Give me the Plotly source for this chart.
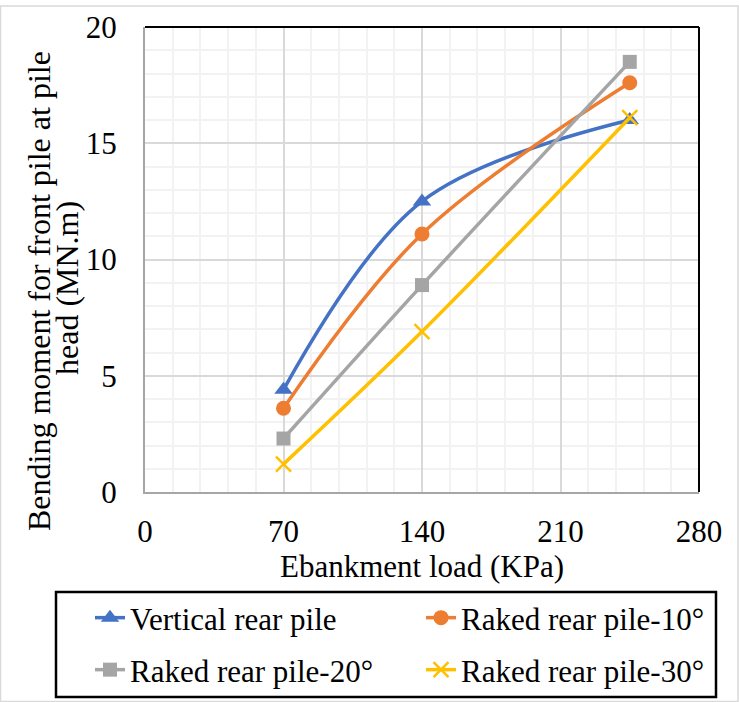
import plotly.graph_objects as go

# ---- data ----
load_kpa = [70, 140, 245]
vertical_rear = [4.4, 12.5, 16.0]
raked_10 = [3.6, 11.1, 17.6]
raked_20 = [2.3, 8.9, 18.5]
raked_30 = [1.2, 6.9, 16.1]

series_names = ["Vertical rear pile", "Raked rear pile-10°",
                "Raked rear pile-20°", "Raked rear pile-30°"]
x_ticks = [0, 70, 140, 210, 280]
y_ticks = [0, 5, 10, 15, 20]
x_title = "Ebankment load (KPa)"
y_title_lines = ["Bending moment for front pile at pile", "head (MN.m)"]

FONT = "Liberation Serif"
FS = 31
FS_YT = 32

W, H = 739, 702
L, R, T, B = 145, 699, 27, 492  # plot area in pixels


def px(x):
    return (x - L) / (R - L)


def py(y):
    return (B - y) / (B - T)


styles = [
    dict(color="#4472C4", symbol="triangle-up", size=16),
    dict(color="#ED7D31", symbol="circle", size=15),
    dict(color="#A5A5A5", symbol="square", size=14),
    dict(color="#FFC000", symbol="x-thin", size=15),
]
data = [vertical_rear, raked_10, raked_20, raked_30]
legend_ids = ["legend", "legend2", "legend3", "legend4"]
legend_pos = [(90, 618), (421, 618), (90, 670), (421, 670)]  # pixel anchor

fig = go.Figure()
for name, ys, st, lg in zip(series_names, data, styles, legend_ids):
    marker = dict(symbol=st["symbol"], size=st["size"], color=st["color"])
    if st["symbol"] == "x-thin":
        marker["line"] = dict(color=st["color"], width=2.5)
    fig.add_trace(go.Scatter(
        x=load_kpa, y=ys, name=name, mode="lines+markers", showlegend=True,
        line=dict(color=st["color"], width=3.5, shape="spline", smoothing=1.0),
        marker=marker, legend=lg,
    ))

tfont = dict(family=FONT, size=FS, color="black")

axis_common = dict(
    showgrid=True, gridcolor="#D9D9D9", gridwidth=1.5,
    showline=True, linecolor="#A6A6A6", linewidth=2,
    zeroline=False, ticks="", automargin=False,
    tickfont=tfont,
)

fig.update_xaxes(
    range=[0, 280], tickvals=x_ticks, ticktext=[str(v) for v in x_ticks],
    minor=dict(dtick=14, showgrid=True, gridcolor="#F2F2F2", gridwidth=1.5),
    ticklabelstandoff=11,
    title=dict(text=x_title, font=tfont, standoff=2),
    **axis_common,
)
fig.update_yaxes(
    range=[0, 20], tickvals=y_ticks, ticktext=[str(v) for v in y_ticks],
    minor=dict(dtick=1, showgrid=True, gridcolor="#F2F2F2", gridwidth=1.5),
    ticklabelstandoff=20,
    **axis_common,
)

legend_layout = {}
for lg, (lx, ly) in zip(legend_ids, legend_pos):
    legend_layout[lg] = dict(
        x=px(lx), y=py(ly), xanchor="left", yanchor="middle",
        orientation="v", font=tfont,
        bgcolor="rgba(0,0,0,0)", borderwidth=0, itemwidth=30,
    )

yt_font = dict(family=FONT, size=FS_YT, color="black")
annotations = [
    dict(text=y_title_lines[0], xref="paper", yref="paper",
         x=px(39), y=py(291), xanchor="center", yanchor="middle",
         textangle=-90, showarrow=False, font=yt_font),
    dict(text=y_title_lines[1], xref="paper", yref="paper",
         x=px(67), y=py(288), xanchor="center", yanchor="middle",
         textangle=-90, showarrow=False, font=yt_font),
]

fig.update_layout(
    width=W, height=H,
    margin=dict(l=L, r=W - R, t=T, b=H - B, autoexpand=False),
    paper_bgcolor="white", plot_bgcolor="white",
    font=tfont,
    showlegend=True,
    annotations=annotations,
    shapes=[
        # plot area top & right border
        dict(type="line", xref="paper", yref="paper", x0=0, x1=1, y0=1, y1=1,
             line=dict(color="black", width=2)),
        dict(type="line", xref="paper", yref="paper", x0=1, x1=1, y0=0, y1=1,
             line=dict(color="black", width=2)),
        # legend box
        dict(type="rect", xref="paper", yref="paper",
             x0=px(56), x1=px(716), y0=py(697), y1=py(592),
             line=dict(color="black", width=2.5), fillcolor="rgba(0,0,0,0)"),
        # outer chart border
        dict(type="rect", xref="paper", yref="paper",
             x0=px(0.5), x1=px(738), y0=py(701.5), y1=py(6),
             line=dict(color="#D9D9D9", width=1.5), fillcolor="rgba(0,0,0,0)"),
    ],
    **legend_layout,
)

fig.write_html("out.html")
